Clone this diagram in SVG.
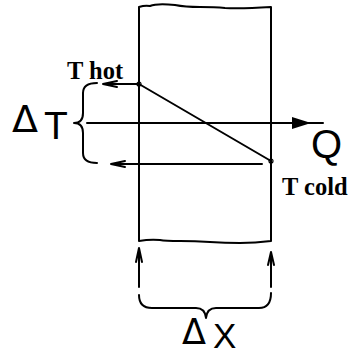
<svg xmlns="http://www.w3.org/2000/svg" width="348" height="354" viewBox="0 0 348 354">
<style>
.ln{stroke:#000;stroke-width:2;fill:none;stroke-linecap:round;stroke-linejoin:round}
.thin{stroke:#000;stroke-width:1.2;fill:none}
.lbl{font-family:"Liberation Serif",serif;font-weight:bold;font-size:24.5px;fill:#000}
.big{font-family:"Liberation Sans",Arial,sans-serif;fill:#000}
.dl{font-family:"DejaVu Sans",sans-serif;fill:#000}
</style>
<rect width="348" height="354" fill="#fff"/>
<g id="slab">
<path class="ln" d="M139,241 L139,7 Q145,5 150,6 Q157,3 175,5 Q185,7 200,7 Q215,7 225,8 Q240,9 271,7 L271,241 Q255,243 240,243 Q225,243 210,242 Q195,241 180,241 Q165,241 160,240 Q150,239 139,241 Z"/>
</g>
<g id="connectors">
<path class="ln" d="M139,84 L271,161"/>
<circle class="thin" cx="139" cy="84" r="2" fill="#fff"/>
<circle class="thin" cx="271" cy="161" r="2" fill="#fff"/>
<path class="ln" d="M139,84 L103,84 M103,84 L117,81 M103,84 L117,87"/>
<path class="ln" d="M262,164 L111,164 M111,164 L125,161 M111,164 L125,167"/>
<path class="ln" d="M87,123 L323,123"/>
<path d="M311,123 L292,117 L292,129 Z" fill="#000"/>
<path class="ln" d="M139,287 L139,248 M139,248 L136,262 M139,248 L142,262"/>
<path class="ln" d="M271,287 L271,252 M271,252 L268,265 M271,252 L274,265"/>
<path class="ln" d="M97,83 Q83,83 83,93 L83,113 Q83,123 74,123 Q83,123 83,133 L83,153 Q83,163 97,163"/>
<path class="ln" d="M139,295 Q139,308 152,308 L196,308 Q205,308 206,318 Q207,308 216,308 L259,308 Q271,308 271,293"/>
</g>
<g id="labels">
<text class="lbl" x="67" y="79">T hot</text>
<text class="lbl" x="282" y="195">T cold</text>
<text class="dl" x="12" y="132" font-size="38" textLength="26" lengthAdjust="spacingAndGlyphs">Δ</text>
<text class="big" x="44" y="139" font-size="39">T</text>
<text class="big" x="311" y="158" font-size="40">Q</text>
<text class="dl" x="182" y="344" font-size="35" textLength="24" lengthAdjust="spacingAndGlyphs">Δ</text>
<text class="big" x="213" y="348" font-size="35">X</text>
</g>
</svg>
